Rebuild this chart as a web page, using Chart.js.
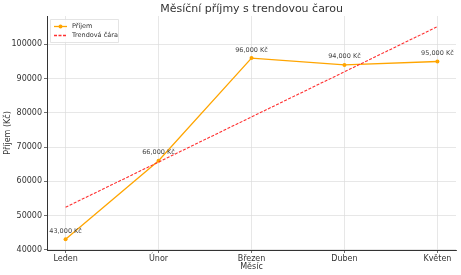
<!DOCTYPE html>
<html>
<head>
<meta charset="utf-8">
<script src="https://cdn.jsdelivr.net/npm/chart.js@4"></script>
<style>
html,body{margin:0;padding:0;background:#fff;}
#wrap{width:461px;height:275px;position:relative;}
</style>
</head>
<body>
<div id="wrap"><canvas id="c" width="461" height="275"></canvas></div>
<script>
const months = ["Leden", "Únor", "Březen", "Duben", "Květen"];
const income = [43000, 66000, 96000, 94000, 95000];
const trend = [52400, 65600, 78800, 92000, 105200];
const yTicks = [40000, 50000, 60000, 70000, 80000, 90000, 100000];
const titleText = "Měsíční příjmy s trendovou čarou";
const seriesNames = ["Příjem", "Trendová čára"];

const FONT = "'DejaVu Sans', sans-serif";

const labelsPlugin = {
  id: 'labels',
  afterDatasetsDraw(chart) {
    const ctx = chart.ctx;
    const meta = chart.getDatasetMeta(0);
    ctx.save();
    ctx.font = "6.5px " + FONT;
    ctx.fillStyle = "#444";
    ctx.textAlign = "center";
    ctx.textBaseline = "alphabetic";
    meta.data.forEach((pt, i) => {
      const txt = income[i].toLocaleString('en-US') + " Kč";
      ctx.fillText(txt, pt.x, pt.y - 6.5);
    });
    ctx.restore();
  },
  afterDraw(chart) {
    const ctx = chart.ctx;
    const ca = chart.chartArea;
    ctx.save();
    ctx.font = "11px " + FONT;
    ctx.fillStyle = "#333";
    ctx.textAlign = "center";
    ctx.textBaseline = "middle";
    ctx.fillText(titleText, (ca.left + ca.right) / 2, 9);
    const lx = ca.left + 3, ly = ca.top + 3, lw = 68, lh = 23;
    ctx.fillStyle = "rgba(255,255,255,0.85)";
    ctx.strokeStyle = "#ddd";
    ctx.lineWidth = 0.8;
    ctx.beginPath();
    ctx.rect(lx + 0.5, ly + 0.5, lw, lh);
    ctx.fill();
    ctx.stroke();
    ctx.font = "6.5px " + FONT;
    ctx.textAlign = "left";
    const r1 = ly + 7.5, r2 = ly + 16.5;
    ctx.strokeStyle = "#FFA500";
    ctx.lineWidth = 1.3;
    ctx.setLineDash([]);
    ctx.beginPath(); ctx.moveTo(lx + 4, r1); ctx.lineTo(lx + 17, r1); ctx.stroke();
    ctx.fillStyle = "#FFA500";
    ctx.beginPath(); ctx.arc(lx + 10.5, r1, 2, 0, Math.PI * 2); ctx.fill();
    ctx.strokeStyle = "#FF3030";
    ctx.setLineDash([3, 1.5]);
    ctx.beginPath(); ctx.moveTo(lx + 4, r2); ctx.lineTo(lx + 17, r2); ctx.stroke();
    ctx.setLineDash([]);
    ctx.fillStyle = "#333";
    ctx.textBaseline = "middle";
    ctx.fillText(seriesNames[0], lx + 22, r1);
    ctx.fillText(seriesNames[1], lx + 22, r2);
    ctx.restore();
  }
};

new Chart(document.getElementById('c'), {
  type: 'line',
  data: {
    datasets: [
      {
        label: seriesNames[0],
        data: income.map((v, i) => ({x: i, y: v})),
        borderColor: '#FFA500',
        backgroundColor: '#FFA500',
        borderWidth: 1.3,
        pointRadius: 2,
        pointHoverRadius: 2,
        pointBorderWidth: 0,
        tension: 0,
        order: 1
      },
      {
        label: seriesNames[1],
        data: trend.map((v, i) => ({x: i, y: v})),
        borderColor: '#FF3030',
        backgroundColor: '#FF3030',
        borderWidth: 1.1,
        borderDash: [3, 1.5],
        pointRadius: 0,
        tension: 0,
        order: 0
      }
    ]
  },
  options: {
    responsive: false,
    animation: false,
    events: [],
    layout: {padding: {left: 0, right: 5, top: 16, bottom: 0}},
    plugins: {
      legend: {display: false},
      title: {display: false},
      tooltip: {enabled: false}
    },
    scales: {
      x: {
        type: 'linear',
        min: -0.2,
        max: 4.2,
        afterBuildTicks(scale) { scale.ticks = months.map((m, i) => ({value: i})); },
        afterFit(scale) { scale.height = 25; },
        ticks: {
          callback: (v) => months[v],
          font: {family: FONT, size: 8},
          color: '#333',
          padding: 1,
          maxRotation: 0,
          autoSkip: false
        },
        grid: {
          color: '#dcdcdc',
          lineWidth: 0.7,
          borderDash: [1.5, 1.5],
          tickColor: '#333',
          tickBorderDash: [],
          tickLength: 3
        },
        border: {display: true, color: '#333', width: 1},
        title: {
          display: true,
          text: 'Měsíc',
          font: {family: FONT, size: 8},
          color: '#333',
          padding: {top: 0, bottom: 3}
        }
      },
      y: {
        type: 'linear',
        min: 39890,
        max: 108310,
        afterBuildTicks(scale) { scale.ticks = yTicks.map(v => ({value: v})); },
        afterFit(scale) { scale.width = 47; },
        ticks: {
          callback: (v) => String(v),
          font: {family: FONT, size: 8},
          color: '#333',
          padding: 2
        },
        grid: {
          color: '#dcdcdc',
          lineWidth: 0.7,
          borderDash: [1.5, 1.5],
          tickColor: '#333',
          tickBorderDash: [],
          tickLength: 3
        },
        border: {display: true, color: '#333', width: 1},
        title: {
          display: true,
          text: 'Příjem (Kč)',
          font: {family: FONT, size: 8},
          color: '#333',
          padding: {top: 3, bottom: 0}
        }
      }
    }
  },
  plugins: [labelsPlugin]
});
</script>
</body>
</html>
